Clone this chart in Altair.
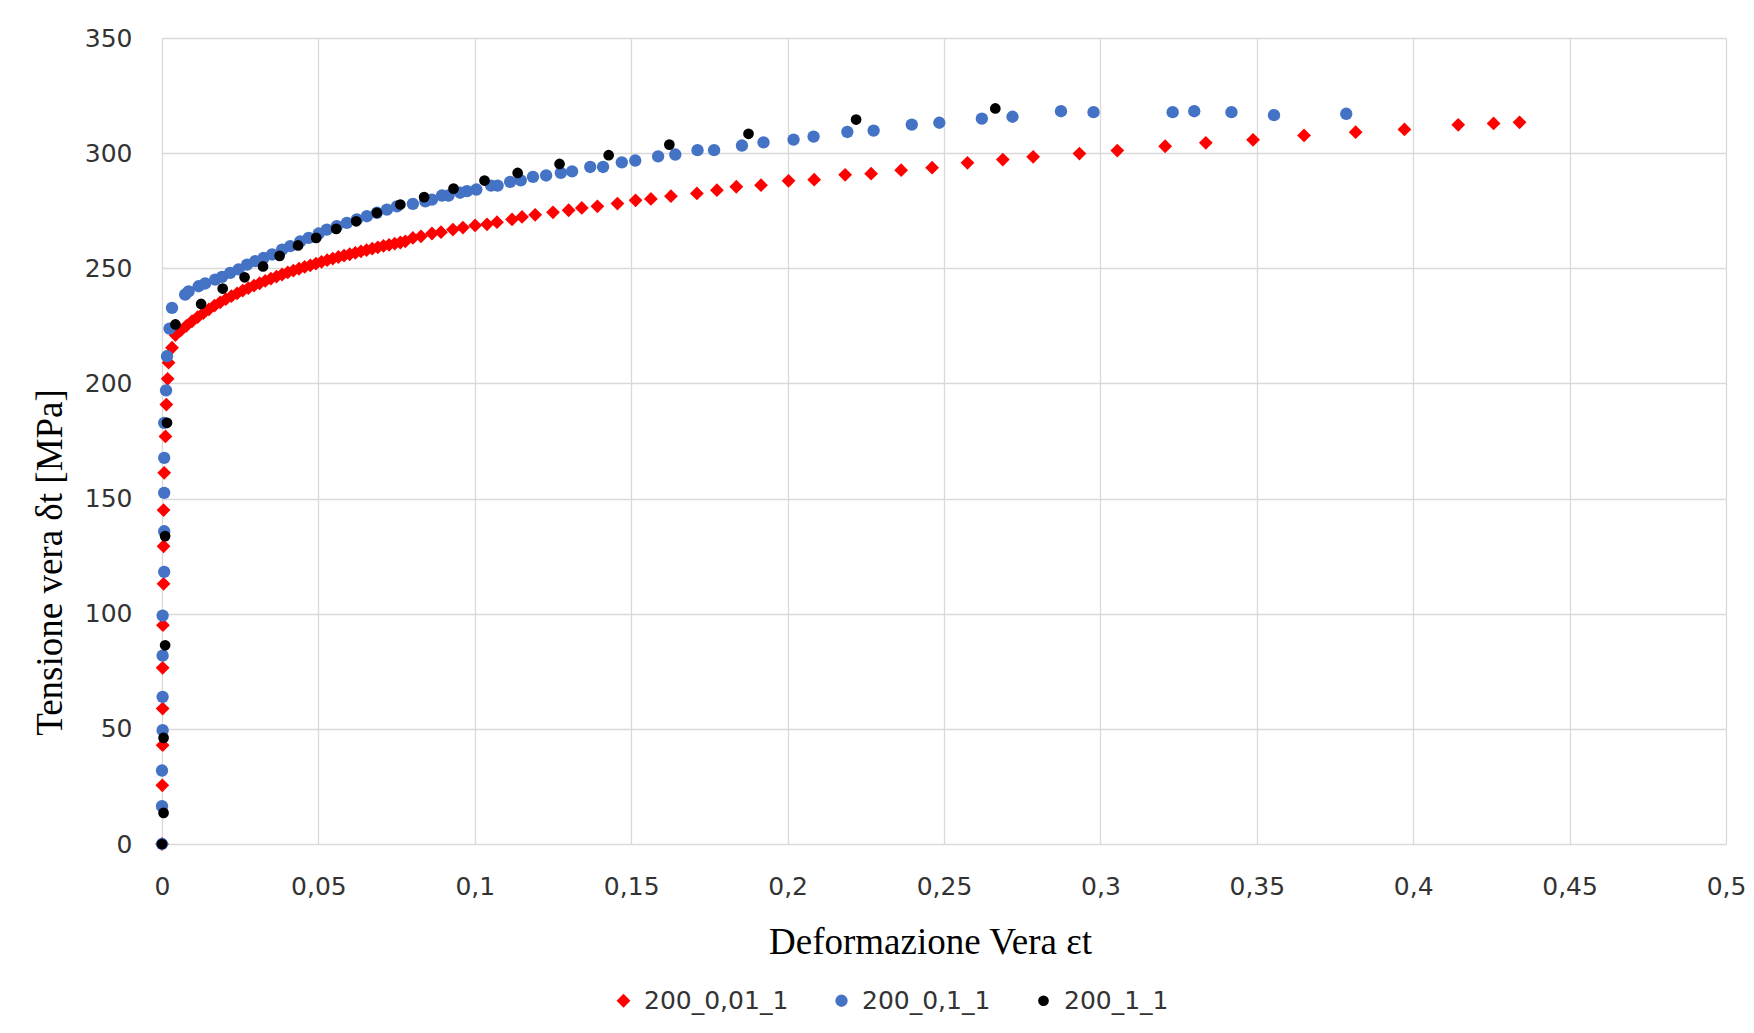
import altair as alt
import pandas as pd

# ---- data ----
series_names = ["200_0,01_1", "200_0,1_1", "200_1_1"]

red_x = [0, 0.0001, 0.0002, 0.0002, 0.0002, 0.0003, 0.0005, 0.0005, 0.0005, 0.0007, 0.0011, 0.0014, 0.0018, 0.0021, 0.0032,
         0.0043, 0.0060, 0.0078, 0.0096, 0.0114, 0.0132, 0.0150, 0.0168, 0.0186, 0.0204, 0.0222, 0.0240, 0.0258, 0.0276,
         0.0294, 0.0312, 0.0330, 0.0348, 0.0366, 0.0384, 0.0402, 0.0420, 0.0438, 0.0456, 0.0474, 0.0492, 0.0510, 0.0528,
         0.0546, 0.0564, 0.0582, 0.0600, 0.0618, 0.0636, 0.0654, 0.0672, 0.0690, 0.0708, 0.0726, 0.0744, 0.0762,
         0.0778, 0.0802, 0.0828, 0.0863, 0.0892, 0.0930, 0.0962, 0.1001, 0.1039, 0.1071, 0.1119, 0.1151, 0.1193, 0.1250,
         0.1300, 0.1342, 0.1392, 0.1456, 0.1514, 0.1563,
         0.1627, 0.1710, 0.1774, 0.1836, 0.1915, 0.2003, 0.2085, 0.2184, 0.2267, 0.2363, 0.2462,
         0.2575, 0.2688, 0.2785, 0.2933, 0.3054, 0.3207, 0.3337, 0.3488, 0.3651, 0.3816, 0.3972, 0.4144, 0.4257, 0.4340]
red_y = [0, 25.5, 42.9, 58.8, 76.5, 95.0, 113.0, 129.3, 145.0, 161.2, 177.0, 190.8, 202.0, 209.0, 215.5,
         221.0, 223.0, 225.0, 227.0, 228.8, 230.5, 232.2, 233.8, 235.2, 236.6, 237.9, 239.1, 240.3, 241.4,
         242.5, 243.5, 244.5, 245.5, 246.4, 247.3, 248.2, 249.0, 249.8, 250.6, 251.3, 252.0, 252.8, 253.5,
         254.2, 254.9, 255.5, 256.1, 256.7, 257.3, 257.9, 258.5, 259.1, 259.7, 260.2, 260.7, 261.2,
         261.7, 263.2, 263.9, 265.1, 265.7, 266.8, 267.7, 268.6, 269.1, 270.0, 271.2, 272.3, 273.2, 274.3,
         275.2, 276.2, 276.9, 278.1, 279.5, 280.1,
         281.3, 282.5, 283.9, 285.4, 286.1, 288.0, 288.5, 290.6, 291.1, 292.6, 293.7,
         295.8, 297.2, 298.4, 299.8, 301.1, 303.0, 304.5, 305.8, 307.7, 309.1, 310.3, 312.3, 312.9, 313.4]

blue_x = [0, 0, 0, 0.0002, 0.0002, 0.0002, 0.0002, 0.0007, 0.0007, 0.0007, 0.0007, 0.0007, 0.0013, 0.0016,
          0.0024, 0.0032, 0.0074, 0.0085, 0.0117, 0.0138, 0.0170, 0.0192, 0.0218, 0.0245, 0.0272, 0.0298, 0.0325,
          0.0352, 0.0384, 0.0410, 0.0442, 0.0469, 0.0501, 0.0527, 0.0559, 0.0591, 0.0623, 0.0655, 0.0687, 0.0719, 0.0751,
          0.0802, 0.0842, 0.0863, 0.0895, 0.0916, 0.0953, 0.0975, 0.1005, 0.1052, 0.1073, 0.1113, 0.1147, 0.1186,
          0.1228, 0.1275, 0.1311, 0.1369, 0.1410, 0.1470, 0.1513, 0.1586,
          0.1641, 0.1712, 0.1765, 0.1854, 0.1923, 0.2019, 0.2083, 0.2191, 0.2275, 0.2397, 0.2485, 0.2621,
          0.2719, 0.2874, 0.2978, 0.3231, 0.3300, 0.3419, 0.3555, 0.3786]
blue_y = [0, 16.4, 31.9, 49.4, 63.9, 81.8, 99.2, 118.2, 135.8, 152.5, 167.7, 182.9, 197.0, 211.8,
          223.8, 232.8, 238.6, 240.0, 242.2, 243.4, 245.1, 246.3, 248.0, 249.5, 251.6, 253.1, 254.5,
          256.0, 258.1, 259.6, 261.7, 263.2, 265.1, 266.8, 268.3, 269.7, 271.2, 272.6, 274.1, 275.5, 276.9,
          278.0, 279.1, 279.8, 281.6, 281.6, 282.8, 283.5, 284.2, 285.9, 285.9, 287.5, 288.2, 289.7,
          290.3, 291.4, 292.1, 294.0, 294.0, 296.0, 296.8, 298.6,
          299.4, 301.3, 301.3, 303.3, 304.7, 305.9, 307.2, 309.2, 309.8, 312.4, 313.2, 315.0,
          315.8, 318.2, 317.8, 317.8, 318.2, 317.8, 316.5, 317.1]

black_x = [0, 0.0005, 0.0005, 0.0010, 0.0010, 0.0016, 0.0043, 0.0125, 0.0194, 0.0264, 0.0323, 0.0376, 0.0435,
           0.0493, 0.0557, 0.0621, 0.0687, 0.0762, 0.0838, 0.0932, 0.1031, 0.1137, 0.1271, 0.1428, 0.1622,
           0.1875, 0.2219, 0.2664]
black_y = [0, 13.5, 46.1, 86.3, 133.7, 182.9, 225.6, 234.5, 241.2, 246.1, 250.8, 255.4, 259.9,
           263.2, 267.1, 270.4, 274.1, 277.7, 280.9, 284.6, 288.1, 291.4, 295.3, 299.1, 303.7,
           308.4, 314.6, 319.4]

x_ticks = [0, 0.05, 0.1, 0.15, 0.2, 0.25, 0.3, 0.35, 0.4, 0.45, 0.5]
y_ticks = [0, 50, 100, 150, 200, 250, 300, 350]

colors = ["#FF0000", "#4472C4", "#000000"]
shapes = ["diamond", "circle", "circle"]
sizes = [190, 115, 88]

frames = []
for name, xs, ys in zip(series_names, [red_x, blue_x, black_x], [red_y, blue_y, black_y]):
    frames.append(pd.DataFrame({"x": xs, "y": ys, "serie": name}))
df = pd.concat(frames, ignore_index=True)

chart = alt.Chart(df).mark_point(filled=True, opacity=1, strokeWidth=0).encode(
    x=alt.X("x:Q",
            scale=alt.Scale(domain=[0, 0.5], nice=False, zero=True),
            axis=alt.Axis(values=x_ticks,
                          labelExpr="replace(format(datum.value, '.2~f'), '.', ',')",
                          labelFlush=False,
                          title="Deformazione Vera εt",
                          titleX=768, titleY=98, titleAlign="center", titleBaseline="middle")),
    y=alt.Y("y:Q",
            scale=alt.Scale(domain=[0, 350], nice=False, zero=True),
            axis=alt.Axis(values=y_ticks,
                          title="Tensione vera δt [MPa]",
                          titleAngle=270, titleX=-112, titleY=524,
                          titleAlign="center", titleBaseline="middle")),
    color=alt.Color("serie:N", scale=alt.Scale(domain=series_names, range=colors),
                    legend=alt.Legend(title=None, orient="none", direction="horizontal",
                                      legendX=449, legendY=950)),
    shape=alt.Shape("serie:N", scale=alt.Scale(domain=series_names, range=shapes)),
    size=alt.Size("serie:N", scale=alt.Scale(domain=series_names, range=sizes), legend=None),
).properties(
    width=1564, height=806,
    autosize=alt.AutoSizeParams(type="none"),
    padding={"left": 154, "top": 30, "right": 20, "bottom": 175},
).configure_view(
    stroke=None
).configure_axis(
    grid=True, gridColor="#D9D9D9", gridWidth=1.3,
    domain=False, ticks=False,
    labelFont="DejaVu Sans", labelFontSize=25, labelColor="#333333",
    titleFont="Liberation Serif", titleFontSize=37, titleColor="#000000", titleFontWeight="normal",
).configure_axisY(
    labelPadding=30
).configure_axisX(
    labelPadding=30
).configure_legend(
    labelFont="DejaVu Sans", labelFontSize=25, labelColor="#333333",
    symbolSize=85, labelOffset=8, columnPadding=40, gridAlign="each",
    symbolStrokeWidth=0
)

chart.save("out.html", embed_options={"renderer": "svg", "actions": False})
